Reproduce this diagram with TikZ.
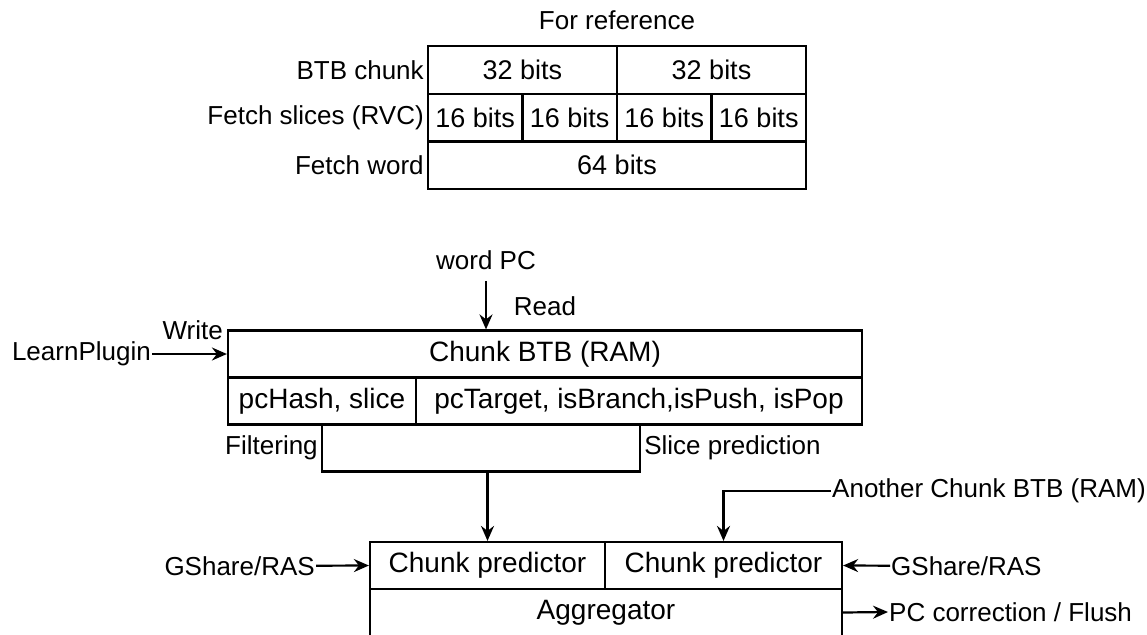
\documentclass[tikz,border=0pt]{standalone}
\usepackage{fontspec}
\setsansfont{Liberation Sans}
\usetikzlibrary{arrows.meta,positioning}

\begin{document}
\begin{tikzpicture}[
x=1pt,y=-1pt,
font=\sffamily\fontsize{26}{30}\selectfont,
cell/.style={rectangle,draw=black,line width=2.2pt,inner sep=0pt,minimum height=48pt,
  font=\sffamily\fontsize{27}{30}\selectfont},
block/.style={rectangle,draw=black,line width=2.2pt,inner sep=0pt,minimum height=47pt,
  font=\sffamily\fontsize{28}{30}\selectfont},
lbl/.style={inner sep=1pt},
arrow/.style={-{Stealth[length=15pt,width=13pt,inset=5pt]},line width=2.2pt}
]
\useasboundingbox (0,0) rectangle (1147,634);

% reference table
\node[lbl] (title) at (617,20) {For reference};
\node[cell,minimum width=189pt] (chunkA) at (522.5,70) {32 bits};
\node[cell,minimum width=189pt] (chunkB) at (711.5,70) {32 bits};
\node[cell,minimum width=94.5pt] (sliceA) at (475.25,118) {16 bits};
\node[cell,minimum width=94.5pt] (sliceB) at (569.75,118) {16 bits};
\node[cell,minimum width=94.5pt] (sliceC) at (664.25,118) {16 bits};
\node[cell,minimum width=94.5pt] (sliceD) at (758.75,118) {16 bits};
\node[cell,minimum width=378pt] (word) at (617,165) {64 bits};
\node[lbl,left=2pt of chunkA] (lblchunk) {BTB chunk};
\node[lbl,left=2pt of sliceA] (lblslice) {Fetch slices (RVC)};
\node[lbl,left=2pt of word.west] (lblword) {Fetch word};

% chunk BTB
\node[lbl] (wordpc) at (486,260) {word PC};
\node[lbl] (read) at (545,306) {Read};
\node[block,minimum width=634pt] (btb) at (545,354) {Chunk BTB (RAM)};
\node[block,minimum width=188pt] (hash) at (322,401) {pcHash, slice};
\node[block,minimum width=446pt] (target) at (639,401) {pcTarget, isBranch,isPush, isPop};
\node[block,minimum width=318pt] (filter) at (481,448) {};
\node[lbl,anchor=east] (write) at (224,330) {Write};
\node[lbl,anchor=east] (learn) at (152,354) {LearnPlugin};
\node[lbl,left=2pt of filter] (filtering) {Filtering};
\node[lbl,right=2pt of filter] (slicepred) {Slice prediction};

% predictors
\node[block,minimum width=235pt] (predA) at (487.5,565.5) {Chunk predictor};
\node[block,minimum width=237pt] (predB) at (723.5,565.5) {Chunk predictor};
\node[block,minimum width=472pt] (aggr) at (606,612.5) {Aggregator};
\node[lbl,anchor=west] (another) at (831,491) {Another Chunk BTB (RAM)};
\node[lbl,anchor=east] (gshareL) at (316,566) {GShare/RAS};
\node[lbl,anchor=west] (gshareR) at (890,566) {GShare/RAS};
\node[lbl,anchor=west] (pcfix) at (888,612) {PC correction / Flush};

\draw[arrow,shorten <=10pt] (wordpc.south) -- (wordpc.south |- btb.north);
\draw[arrow] (learn) -- (btb.west);
\draw[arrow] (predA.north |- filter.south) -- (predA.north);
\draw[arrow] (another.west) -| (predB.north);
\draw[arrow] (gshareL) -- (predA.west);
\draw[arrow] (gshareR) -- (predB.east);
\draw[arrow] (aggr.east) -- (pcfix.west);
\end{tikzpicture}
\end{document}
